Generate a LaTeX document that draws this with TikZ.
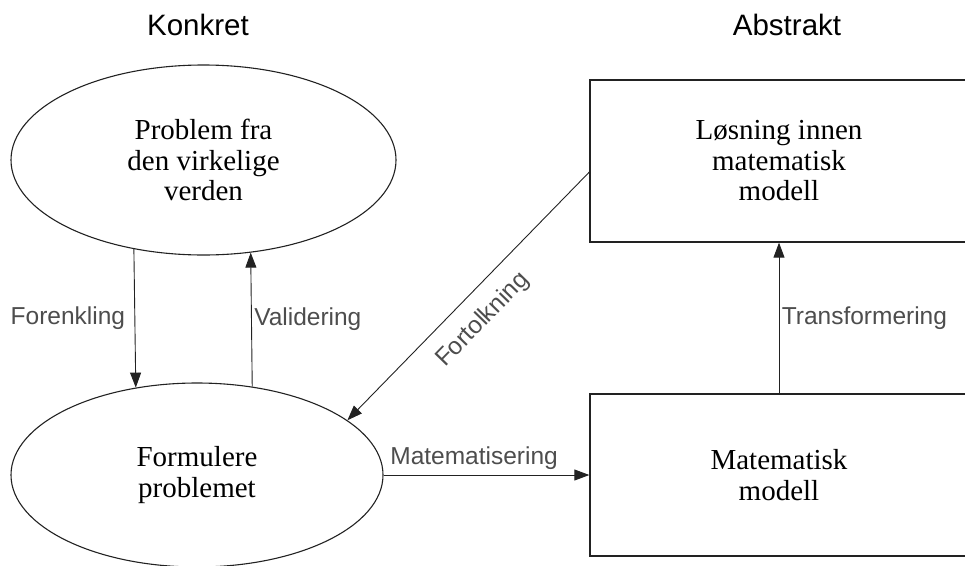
\documentclass[tikz,border=0pt]{standalone}
\usepackage{fontspec}
\setmainfont{Liberation Serif}
\setsansfont{Liberation Sans}
\usetikzlibrary{positioning,arrows.meta,shapes.geometric}
\definecolor{MLine}{HTML}{222222}
\definecolor{MLabel}{HTML}{4D4D4D}

\begin{document}
\begin{tikzpicture}[
    x=1pt, y=-1pt,
    modelloval/.style={
      draw=MLine,
      ellipse,
      line width=1.1pt,
      inner sep=0pt,
      align=center,
      font=\fontsize{29}{30.5}\selectfont
    },
    modellbox/.style={
      draw=MLine,
      rectangle,
      line width=1.3pt,
      minimum width=378pt,
      minimum height=162pt,
      inner sep=0pt,
      align=center,
      font=\fontsize{29}{30.5}\selectfont
    },
    modellarrow/.style={
      -{Triangle[length=15pt,width=11pt]},
      line width=0.9pt,
      MLine
    },
    steglabel/.style={
      font=\sffamily\fontsize{24.5}{27}\selectfont,
      text=MLabel
    },
    kolonne/.style={
      font=\sffamily\fontsize{29.5}{33}\selectfont,
      anchor=base
    }
  ]

  \clip (0,0) rectangle (965,565);

  % kolonner
  \node[kolonne] (konkret) at (198,35) {Konkret};
  \node[kolonne] (abstrakt) at (787,35) {Abstrakt};

  % konkret side
  \node[modelloval, minimum width=385pt, minimum height=190pt] (problem) at (203.5,160) {Problem fra\\den virkelige\\verden};
  \node[modelloval, minimum width=372pt, minimum height=184pt] (formulere) at (197,475) {Formulere\\problemet};

  % abstrakt side
  \node[modellbox] (losning) at (779,161) {Løsning innen\\matematisk\\modell};
  \node[modellbox] (matmodell) at (779,475) {Matematisk\\modell};

  \draw[modellarrow] (problem.232.8) -- (formulere.125.1) node[steglabel, midway, left=6pt] {Forenkling};
  \draw[modellarrow] (formulere.58) -- (problem.297.8) node[steglabel, midway, right=-1pt] {Validering};
  \draw[modellarrow] (formulere.east) -- (matmodell.west) node[steglabel, pos=0.44, above=2pt] {Matematisering};
  \draw[modellarrow] (matmodell) -- (losning) node[steglabel, midway, right=-1pt] {Transformering};
  \draw[modellarrow] ([yshift=-11pt]losning.west) -- (formulere.20) node[steglabel, pos=0.52, sloped, below=12pt] {Fortolkning};

\end{tikzpicture}
\end{document}
